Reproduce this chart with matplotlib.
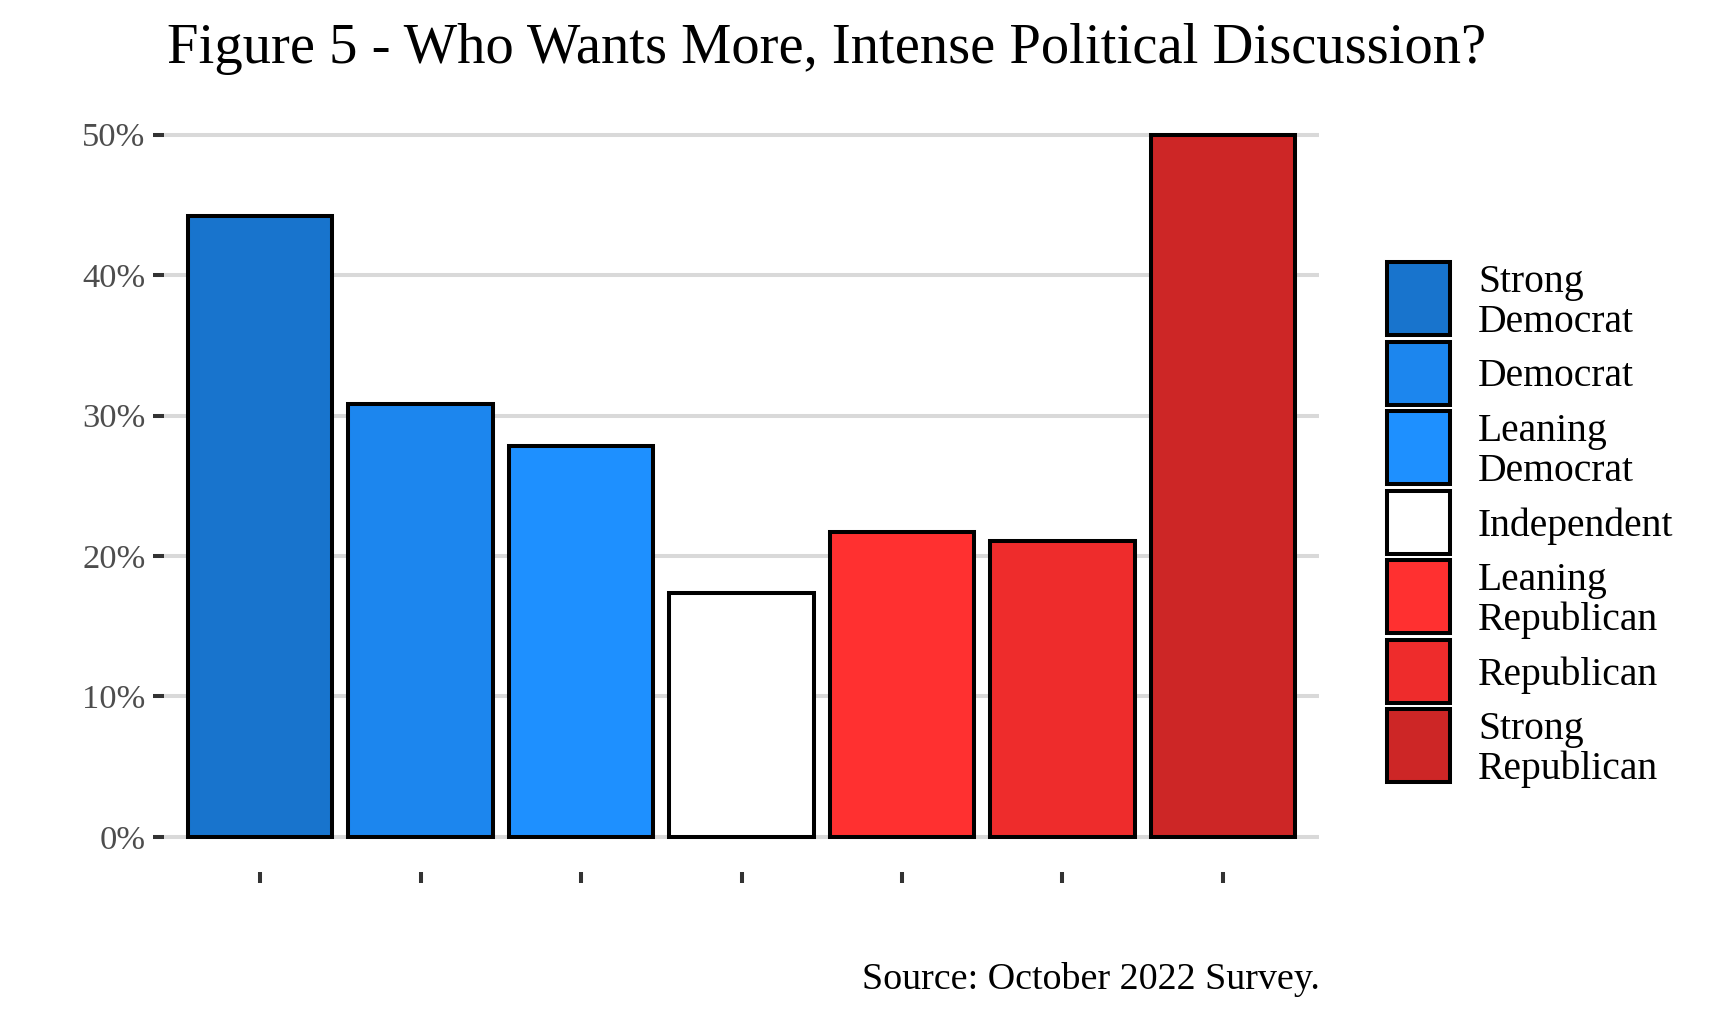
import matplotlib
matplotlib.use("Agg")
import matplotlib.pyplot as plt
from matplotlib.patches import Rectangle

categories = ["Strong\nDemocrat", "Democrat", "Leaning\nDemocrat", "Independent",
              "Leaning\nRepublican", "Republican", "Strong\nRepublican"]
values = [44.2, 30.8, 27.8, 17.4, 21.7, 21.1, 50.0]
colors = ["#1874CD", "#1C86EE", "#1E90FF", "#FFFFFF", "#FF3030", "#EE2C2C", "#CD2626"]
yticks = [0, 10, 20, 30, 40, 50]
ytick_labels = ["0%", "10%", "20%", "30%", "40%", "50%"]
title = "Figure 5 - Who Wants More, Intense Political Discussion?"
caption = "Source: October 2022 Survey."

FONT = "Liberation Serif"
W, H = 1719, 1023
fig = plt.figure(figsize=(W / 100, H / 100), dpi=100)
fig.patch.set_facecolor("white")

# panel in pixel coordinates
pl, pr, pb, pt = 164, 1319, 872, 99.6
ax = fig.add_axes([pl / W, (H - pb) / H, (pr - pl) / W, (pb - pt) / H])
x = list(range(1, len(values) + 1))
ax.bar(x, values, width=0.9, color=colors, edgecolor="black", linewidth=2.9, zorder=3)
ax.set_xlim(0.4, 7.6)
ax.set_ylim(-2.5, 52.5)
ax.set_yticks(yticks)
ax.set_yticklabels(ytick_labels, fontfamily=FONT, fontsize=24.8, color="#4D4D4D")
ax.set_xticks(x)
ax.set_xticklabels([""] * len(x))
ax.tick_params(axis="y", length=8, width=2.9, color="#333333", pad=5.5)
ax.tick_params(axis="x", length=8, width=2.9, color="#333333", pad=0)
ax.grid(axis="y", color="#D9D9D9", linewidth=2.9, zorder=0)
ax.grid(axis="x", visible=False)
for s in ax.spines.values():
    s.set_visible(False)
ax.set_facecolor("white")

# title & caption
fig.text(167 / W, 1 - 63 / H, title, fontfamily=FONT, fontsize=40.8, color="black",
         ha="left", va="baseline")
fig.text(1320 / W, 1 - 989 / H, caption, fontfamily=FONT, fontsize=27.4, color="black",
         ha="right", va="baseline")

# legend (manual, pixel coordinates)
lg = fig.add_axes([0, 0, 1, 1])
lg.set_xlim(0, W)
lg.set_ylim(H, 0)
lg.axis("off")
y = 260.0
kx0, kx1 = 1387, 1450
for lab, col in zip(categories, colors):
    nlines = lab.count("\n") + 1
    h = 77 if nlines == 2 else 67
    top, bot = y + 2, y + h - 2
    lg.add_patch(Rectangle((kx0, top), kx1 - kx0, bot - top, facecolor=col,
                           edgecolor="black", linewidth=2.9))
    lg.text(1478, (top + bot) / 2 + 4, lab, fontfamily=FONT, fontsize=28.5, color="black",
            ha="left", va="center", linespacing=1.08)
    y += h + 2.5

fig.savefig("out.png", dpi=100, facecolor="white")
